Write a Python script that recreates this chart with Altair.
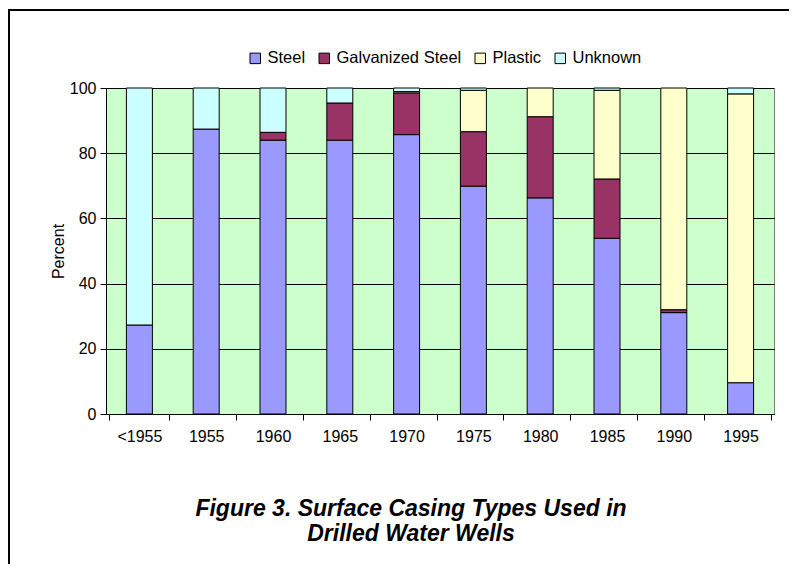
import altair as alt
import pandas as pd

categories = ["<1955", "1955", "1960", "1965", "1970", "1975", "1980", "1985", "1990", "1995"]
series_names = ["Steel", "Galvanized Steel", "Plastic", "Unknown"]
steel = [27.3, 87.4, 84.0, 84.0, 85.7, 69.9, 66.3, 53.9, 31.1, 9.6]
galvanized = [0, 0, 2.4, 11.4, 12.8, 16.7, 24.9, 18.2, 0.9, 0]
plastic = [0, 0, 0, 0, 0.4, 12.7, 8.8, 27.2, 68.0, 88.6]
unknown = [72.7, 12.6, 13.6, 4.6, 1.1, 0.7, 0, 0.7, 0, 1.8]
colors = ["#9999FF", "#993366", "#FFFFCC", "#CCFFFF"]
y_ticks = [0, 20, 40, 60, 80, 100]

rows = []
for i, c in enumerate(categories):
    for k, (name, vals) in enumerate(zip(series_names, [steel, galvanized, plastic, unknown])):
        if vals[i] > 0:
            rows.append({"Year": c, "Type": name, "Percent": vals[i], "order": k})
df = pd.DataFrame(rows)

W, H = 668, 326
PL, PT, PR, PB = 98, 80, 15, 150
FONT = "Liberation Sans"

bars = alt.Chart(df).mark_bar(stroke="black", strokeWidth=1, width=26).encode(
    x=alt.X("Year:N", sort=categories, title=None,
            axis=alt.Axis(labelAngle=0, tickBand="extent", domainColor="black",
                          tickColor="black", tickSize=6, labelFontSize=16,
                          labelPadding=8, labelColor="black")),
    y=alt.Y("Percent:Q", stack="zero", scale=alt.Scale(domain=[0, 100], nice=False),
            title="Percent",
            axis=alt.Axis(values=y_ticks, grid=True, gridColor="black", gridWidth=1,
                          domainColor="black", tickColor="black", tickSize=6,
                          labelFontSize=16, labelPadding=4, labelColor="black",
                          titleFontSize=16, titleFontWeight="normal", titlePadding=3,
                          titleColor="black")),
    color=alt.Color("Type:N", sort=series_names,
                    scale=alt.Scale(domain=series_names, range=colors),
                    legend=alt.Legend(title=None, orient="none", direction="horizontal",
                                      legendX=141, legendY=-38, symbolType="square",
                                      symbolSize=110, symbolStrokeColor="black",
                                      symbolStrokeWidth=1, symbolOpacity=1,
                                      labelFontSize=16.5, labelOffset=4, columnPadding=10,
                                      labelColor="black")),
    order=alt.Order("order:Q"),
)

frame_df = pd.DataFrame({"a": [0]})
left_border = alt.Chart(frame_df).mark_rule(color="black", strokeWidth=2).encode(
    x=alt.value(-PL + 1), y=alt.value(-PT + 1), y2=alt.value(H + PB)
)
top_border = alt.Chart(frame_df).mark_rule(color="black", strokeWidth=2).encode(
    y=alt.value(-PT + 2), x=alt.value(-PL), x2=alt.value(W + PR)
)

chart = alt.layer(bars, left_border, top_border).properties(
    width=W, height=H,
    autosize=alt.AutoSizeParams(type="none"),
    padding={"left": PL, "top": PT, "right": PR, "bottom": PB},
    title=alt.TitleParams(
        text=["Figure 3. Surface Casing Types Used in", "Drilled Water Wells"],
        orient="bottom", anchor="middle", fontSize=23, fontStyle="italic",
        fontWeight="bold", font=FONT, color="black", offset=-67, dx=-29, lineHeight=25,
    ),
).configure(font=FONT).configure_view(
    fill="#CCFFCC", stroke="#808080", strokeWidth=1
)

chart.save("out.html", embed_options={"renderer": "svg", "actions": False})
